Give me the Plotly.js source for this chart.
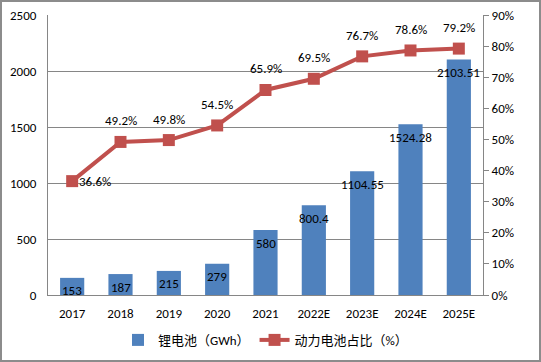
<!DOCTYPE html>
<html><head><meta charset="utf-8">
<script src="https://cdn.plot.ly/plotly-3.0.1.min.js"></script>
<style>
html,body{margin:0;padding:0;background:#fff;}
#wrap{width:541px;height:362px;box-sizing:border-box;border:2px solid #8c8c8c;overflow:hidden;}
#chart{width:537px;height:358px;}
</style></head>
<body><div id="wrap"><div id="chart"></div></div>
<script>
const categories = ['2017','2018','2019','2020','2021','2022E','2023E','2024E','2025E'];
const lithium = [153, 187, 215, 279, 580, 800.4, 1104.55, 1524.28, 2103.51];
const lithiumLabels = ['153','187','215','279','580','800.4','1104.55','1524.28','2103.51'];
const powerShare = [36.6, 49.2, 49.8, 54.5, 65.9, 69.5, 76.7, 78.6, 79.2];
const powerLabels = ['36.6%','49.2%','49.8%','54.5%','65.9%','69.5%','76.7%','78.6%','79.2%'];

const font = "Calibri, Carlito, 'Noto Sans CJK SC', 'Open Sans', sans-serif";
const blue = '#4F81BD', red = '#C0504D';
const xi = categories.map((c,i)=>i);

const traces = [
  {type:'bar', x:xi, y:lithium, name:'锂电池（GWh）', marker:{color:blue}, width:0.5, yaxis:'y', hoverinfo:'none'},
  {type:'scatter', mode:'lines+markers', x:xi, y:powerShare, name:'动力电池占比（%）', yaxis:'y2',
   line:{color:red, width:4}, marker:{symbol:'square', size:12, color:red}, hoverinfo:'none'}
];

const annotations = [];
xi.forEach((x,i)=>{
  annotations.push({x:x, y:lithium[i], xref:'x', yref:'y', text:lithiumLabels[i], showarrow:false,
    yanchor:'middle', yshift:-13, font:{size:13, color:'#000', family:font}});
  annotations.push({x:x, y:powerShare[i], xref:'x', yref:'y2', text:powerLabels[i], showarrow:false,
    yanchor:'middle', yshift: i===0?0:21, xshift: i===0?23:0, font:{size:13, color:'#000', family:font}});
});

const layout = {
  width:537, height:358,
  margin:{l:46, r:56, t:13, b:65, autoexpand:false},
  paper_bgcolor:'#fff', plot_bgcolor:'#fff',
  font:{family:font, size:13, color:'#000'},
  showlegend:true,
  legend:{orientation:'h', x:0.5, xanchor:'center', yref:'container', y:0.056, yanchor:'middle', font:{size:13, family:font}},
  xaxis:{range:[-0.5, categories.length-0.5], tickvals:xi, ticktext:categories, showline:true, linecolor:'#868686', linewidth:1,
         ticks:'', tickfont:{size:13}, showgrid:false, zeroline:false, automargin:false, ticklabelstandoff:6},
  yaxis:{range:[0,2500], dtick:500, showgrid:true, gridcolor:'#868686', gridwidth:1, showline:true, linecolor:'#868686',
         ticks:'', tickfont:{size:13}, zeroline:false, ticklabelstandoff:8, automargin:false},
  yaxis2:{overlaying:'y', side:'right', range:[0,90], dtick:10, ticksuffix:'%', showgrid:false, showline:true,
          linecolor:'#868686', ticks:'outside', ticklen:5, tickcolor:'#868686', tickfont:{size:13}, zeroline:false, automargin:false},
  annotations:annotations
};

Plotly.newPlot('chart', traces, layout, {displayModeBar:false, staticPlot:true});
</script></body></html>
